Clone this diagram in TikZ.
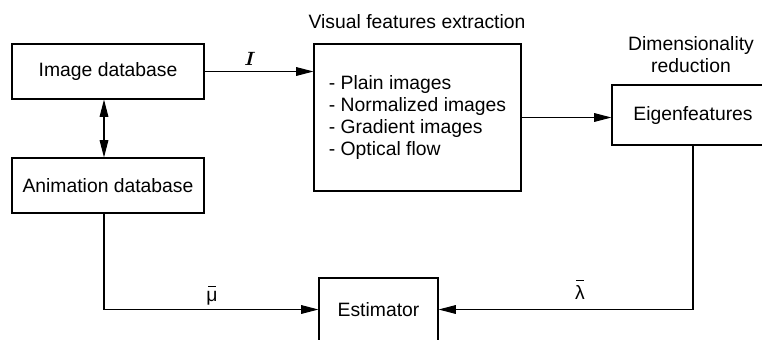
\documentclass[tikz,border=0pt]{standalone}
\usepackage{amsmath}
\usepackage{fontspec}
\setmainfont{Liberation Sans}
\usetikzlibrary{arrows.meta,positioning,calc}
\tikzstyle{block}=[draw,rectangle,inner sep=0pt]
\tikzstyle{tip}=[-{Triangle[length=13pt,width=6.5pt]}]
\tikzstyle{both}=[{Triangle[length=13pt,width=6.5pt]}-{Triangle[length=13pt,width=6.5pt]}]
\newcommand{\barred}[2]{\ooalign{#1\cr\hidewidth\rule[#2]{0.38em}{0.06em}\hidewidth}}

\begin{document}
\begin{tikzpicture}[x=0.75pt,y=-0.75pt,line width=0.8pt,font=\fontsize{14.5}{16.5}\selectfont]
\useasboundingbox (0,0) rectangle (762,339);
\clip (0,0) rectangle (762,339);
% boxes
\node [block,minimum width=144pt,minimum height=41.25pt] (imgdb) at (108,71.5) {Image database};
\node [block,minimum width=144pt,minimum height=41.25pt] (anidb) at (108,185.5) {Animation database};
\node [block,minimum width=155.25pt,minimum height=110.25pt,align=left] (feat) at (417.5,117.5)
  {- Plain images\\- Normalized images\\- Gradient images\\- Optical flow};
\node [block,minimum width=121.5pt,minimum height=45pt] (eigen) at (693,115) {Eigenfeatures};
\node [block,minimum width=89.25pt,minimum height=47.25pt] (est) at (378.5,309.5) {Estimator};
% titles
\node (feattitle) at (417,22) {Visual features extraction};
\node [align=center,font=\fontsize{14.5}{17}\selectfont] (eigentitle) at (691,54.5) {Dimensionality\\reduction};
% connectors
\draw [tip] (imgdb.east) -- (imgdb.east -| feat.west);
\draw [both] ([xshift=-3pt]imgdb.south) -- ([xshift=-3pt]anidb.north);
\draw [tip] (feat.east) -- (feat.east -| eigen.west);
\draw [tip] ([xshift=-3pt]anidb.south) |- (est.west);
\draw [tip] (eigen.south) |- (est.east);
% labels
\node (ilabel) at (250,59) {\fontsize{15}{15}\selectfont$\boldsymbol{I}$};
\node (mulabel) at (212,296) {\barred{μ}{1.4ex}};
\node (lambdalabel) at (580,292) {\barred{λ}{1.75ex}};
\end{tikzpicture}
\end{document}
